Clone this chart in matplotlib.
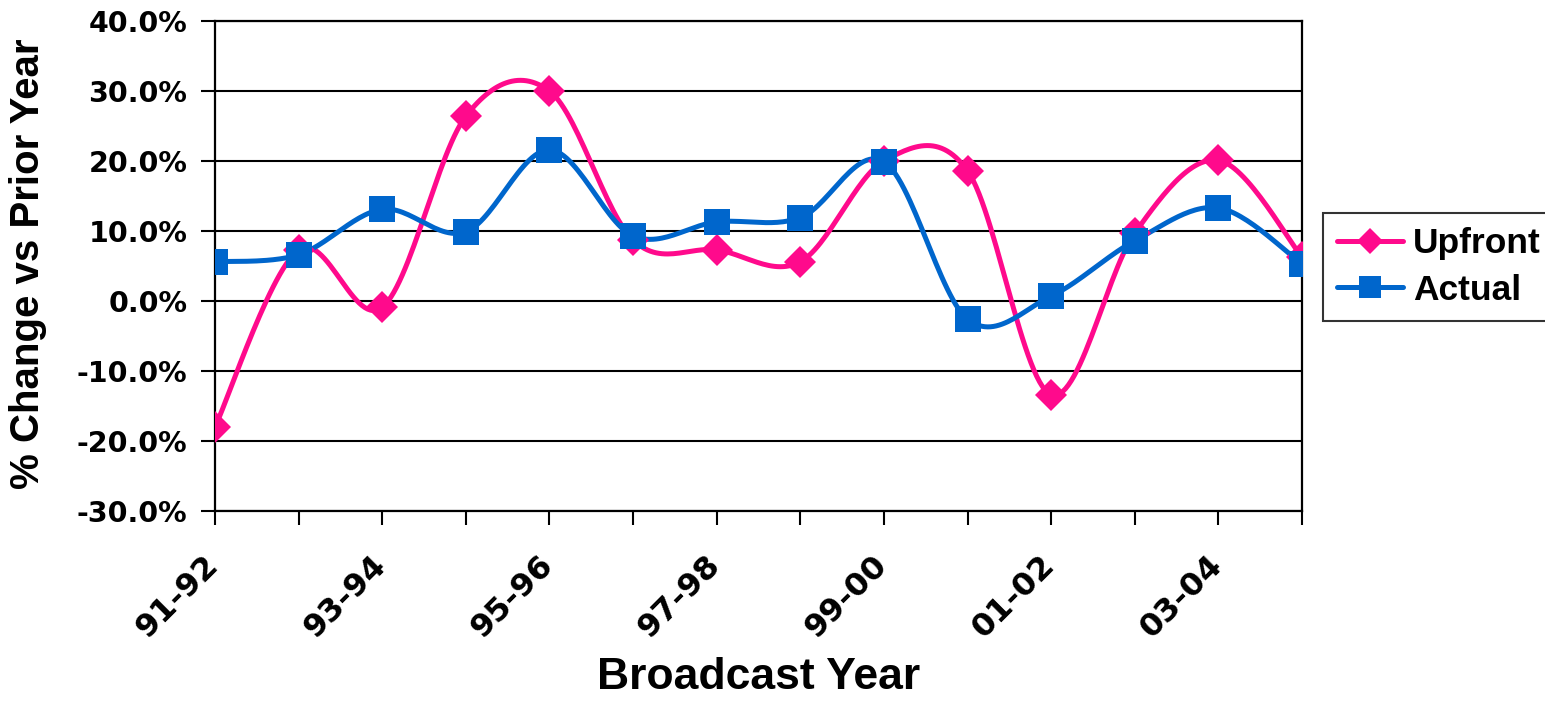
import numpy as np
import matplotlib
matplotlib.use("Agg")
import matplotlib.pyplot as plt
import matplotlib.transforms as mtrans
from matplotlib.ticker import FuncFormatter, MultipleLocator

plt.rcParams['font.family'] = ['Liberation Sans', 'DejaVu Sans']
plt.rcParams['font.weight'] = 'bold'

years = ["91-92", "92-93", "93-94", "94-95", "95-96", "96-97", "97-98",
         "98-99", "99-00", "00-01", "01-02", "02-03", "03-04", "04-05"]
upfront = [-18.0, 7.3, -0.9, 26.4, 30.0, 8.7, 7.3, 5.6, 20.0, 18.6, -13.4, 9.7, 20.1, 6.3]
actual = [5.6, 6.6, 13.1, 9.9, 21.6, 9.3, 11.3, 11.9, 19.9, -2.6, 0.7, 8.6, 13.3, 5.3]

PINK = "#FF0A8C"
BLUE = "#0066CC"


def smooth(xs, ys, n=30):
    # catmull-rom style bezier, roughly what excel does for "smoothed line"
    p = np.column_stack([xs, ys]).astype(float)
    p = np.vstack([p[0], p, p[-1]])
    out = []
    for i in range(1, len(p) - 2):
        p0, p1, p2, p3 = p[i - 1], p[i], p[i + 1], p[i + 2]
        c1 = p1 + (p2 - p0) / 6.0
        c2 = p2 - (p3 - p1) / 6.0
        t = np.linspace(0, 1, n)[:, None]
        seg = ((1 - t) ** 3) * p1 + 3 * ((1 - t) ** 2) * t * c1 + 3 * (1 - t) * t ** 2 * c2 + t ** 3 * p2
        out.append(seg if i == 1 else seg[1:])
    out = np.vstack(out)
    return out[:, 0], out[:, 1]


x = np.arange(len(years))

fig = plt.figure(figsize=(15.45, 7.07), dpi=100)
ax = fig.add_axes([215 / 1545, 1 - 511 / 707, (1302 - 215) / 1545, (511 - 21) / 707])

for vals, col, mk, ms, lab in [(upfront, PINK, "D", 16, "Upfront"),
                               (actual, BLUE, "s", 19, "Actual")]:
    sx, sy = smooth(x, vals)
    ax.plot(sx, sy, color=col, lw=3.6, zorder=3, solid_capstyle="round")
    ax.plot(x, vals, linestyle="none", marker=mk, ms=ms, color=col, mec=col, mew=0, zorder=4)
    # legend proxy
    ax.plot([], [], color=col, lw=3.6, marker=mk, ms=ms * 0.85, mew=0, label=lab,
            solid_capstyle="round")

ax.set_xlim(0, len(years) - 1)
ax.set_ylim(-30, 40)
ax.yaxis.set_major_locator(MultipleLocator(10))
ax.yaxis.set_major_formatter(FuncFormatter(lambda v, p: "%.1f%%" % v))
ax.grid(axis="y", color="black", lw=1.5)
ax.set_axisbelow(True)

ax.set_xticks(x)
ax.set_xticklabels([y if i % 2 == 0 else "" for i, y in enumerate(years)],
                   rotation=45, ha="right", va="top", rotation_mode="anchor")

for s in ax.spines.values():
    s.set_color("black")
    s.set_linewidth(1.6)

ax.tick_params(axis="both", direction="out", length=10, width=1.5, color="black")
ax.tick_params(axis="y", labelsize=20.5, pad=10)
ax.tick_params(axis="x", labelsize=23, pad=18)

# tick labels in the reference are wider than arial
shift = mtrans.ScaledTranslation(-12 / 100, 0, fig.dpi_scale_trans)
for lbl in ax.get_xticklabels():
    lbl.set_fontfamily("DejaVu Sans")
    lbl.set_transform(lbl.get_transform() + shift)
for lbl in ax.get_yticklabels():
    lbl.set_fontfamily("DejaVu Sans")

ax.set_xlabel("Broadcast Year", fontsize=32, fontweight="bold")
ax.xaxis.set_label_coords(0.5, -0.298)
ax.set_ylabel("% Change vs Prior Year", fontsize=29, fontweight="bold")
ax.yaxis.set_label_coords(-0.155, 0.505)

leg = fig.legend(loc="upper left", bbox_to_anchor=(1323 / 1545, 1 - 213 / 707),
                 borderaxespad=0, frameon=True, fancybox=False,
                 edgecolor="black", handlelength=1.85, handletextpad=0.3,
                 borderpad=0.4, labelspacing=0.38, prop={"weight": "bold", "size": 25.5})
leg.get_frame().set_linewidth(1.5)

fig.savefig("out.png", dpi=100)
